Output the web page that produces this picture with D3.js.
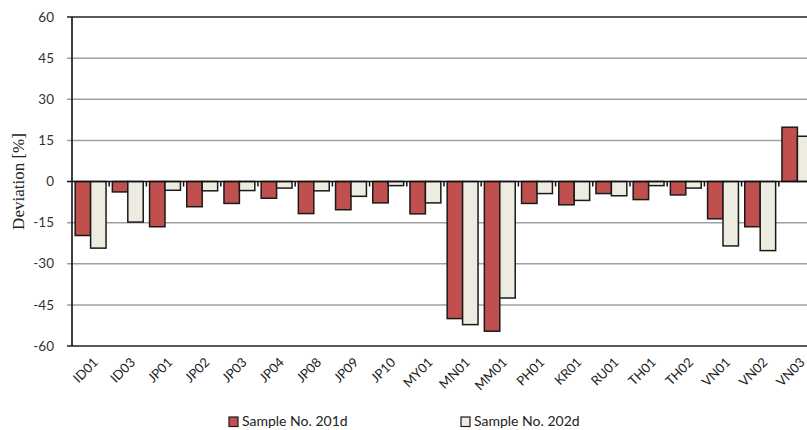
<!DOCTYPE html>
<html><head><meta charset="utf-8">
<script src="https://cdn.jsdelivr.net/npm/d3@7"></script>
<style>body{margin:0;background:#fff;}svg{display:block;}</style>
</head><body>
<script>
const categories = ["ID01","ID03","JP01","JP02","JP03","JP04","JP08","JP09","JP10","MY01","MN01","MM01","PH01","KR01","RU01","TH01","TH02","VN01","VN02","VN03"];
const series201d = [-19.7,-3.8,-16.5,-9.2,-8.0,-6.1,-11.7,-10.3,-7.8,-11.8,-50.0,-54.6,-8.0,-8.5,-4.4,-6.6,-4.9,-13.6,-16.5,19.8];
const series202d = [-24.3,-14.8,-3.2,-3.4,-3.3,-2.4,-3.4,-5.4,-1.5,-7.8,-52.2,-42.5,-4.4,-6.9,-5.2,-1.5,-2.4,-23.5,-25.2,16.5];
const yTicks = [-60,-45,-30,-15,0,15,30,45,60];
const seriesNames = ["Sample No. 201d","Sample No. 202d"];
const colors = ["#C0504D","#EEECE1"];

(function () {
const W = 807, H = 430;
const svg = d3.select("body").append("svg").attr("width", W).attr("height", H);
const pLeft = 72, pRight = 816, pTop = 17, pBottom = 346;

const x = d3.scaleBand().domain(categories).range([pLeft, pRight]).paddingInner(0).paddingOuter(0);
const x1 = d3.scaleBand().domain([0,1]).range([0, x.bandwidth()]).paddingInner(0).paddingOuter(0.205);
const y = d3.scaleLinear().domain([-60, 60]).range([pBottom, pTop]);

// gridlines
svg.append("g").selectAll("line").data(yTicks).join("line")
  .attr("x1", pLeft - 5).attr("x2", pRight)
  .attr("y1", d => y(d)).attr("y2", d => y(d))
  .attr("stroke", d => (d === 60 || d === -60) ? "#222" : (d === 0 ? "none" : "#a0a0a0"))
  .attr("stroke-width", d => (d === 60 || d === -60) ? 1.6 : 1.5);

// y tick labels
svg.append("g").selectAll("text").data(yTicks).join("text")
  .attr("x", 54).attr("y", d => y(d)).attr("dy", "0.35em")
  .attr("text-anchor", "end")
  .attr("font-family", "Lato, 'Open Sans', sans-serif").attr("font-size", 13.5)
  .attr("fill", "#333").text(d => d);

// bars
const data = categories.map((c, i) => ({c, v: [series201d[i], series202d[i]]}));
const g = svg.append("g");
data.forEach(d => {
  d.v.forEach((v, j) => {
    g.append("rect")
      .attr("x", x(d.c) + x1(j))
      .attr("width", x1.bandwidth())
      .attr("y", Math.min(y(v), y(0)))
      .attr("height", Math.abs(y(v) - y(0)))
      .attr("fill", colors[j]).attr("stroke", "#1a1a1a").attr("stroke-width", 1.5);
  });
});

// zero line and category ticks
svg.append("line").attr("x1", pLeft - 5).attr("x2", pRight).attr("y1", y(0)).attr("y2", y(0))
  .attr("stroke", "#111").attr("stroke-width", 1.6);
svg.append("g").selectAll("line").data(categories.slice(1)).join("line")
  .attr("x1", d => x(d)).attr("x2", d => x(d))
  .attr("y1", y(0)).attr("y2", y(0) + 5)
  .attr("stroke", "#111").attr("stroke-width", 1.5);

// y axis line
svg.append("line").attr("x1", pLeft).attr("x2", pLeft).attr("y1", pTop).attr("y2", pBottom)
  .attr("stroke", "#111").attr("stroke-width", 1.6);

// category labels
svg.append("g").selectAll("text").data(categories).join("text")
  .attr("transform", d => `translate(${x(d) + x.bandwidth()/2 + 5},${pBottom + 14}) rotate(-45)`)
  .attr("text-anchor", "end").attr("dy", "0.35em")
  .attr("font-family", "Lato, 'Open Sans', sans-serif").attr("font-size", 13)
  .attr("fill", "#222").text(d => d);

// y axis title
svg.append("text")
  .attr("transform", `translate(24,${(pTop + pBottom)/2}) rotate(-90)`)
  .attr("text-anchor", "middle")
  .attr("font-family", "'Liberation Serif', 'DejaVu Serif', serif").attr("font-size", 17)
  .attr("fill", "#222").text("Deviation [%]");

// legend
const legendX = [229, 461];
seriesNames.forEach((n, i) => {
  svg.append("rect").attr("x", legendX[i]).attr("y", 417).attr("width", 9).attr("height", 9.5)
    .attr("fill", colors[i]).attr("stroke", "#1a1a1a").attr("stroke-width", 1.2);
  svg.append("text").attr("x", legendX[i] + 13).attr("y", 421.5).attr("dy", "0.35em")
    .attr("font-family", "Lato, 'Open Sans', sans-serif").attr("font-size", 14)
    .attr("fill", "#222").text(n);
});
})();
</script>
</body></html>
